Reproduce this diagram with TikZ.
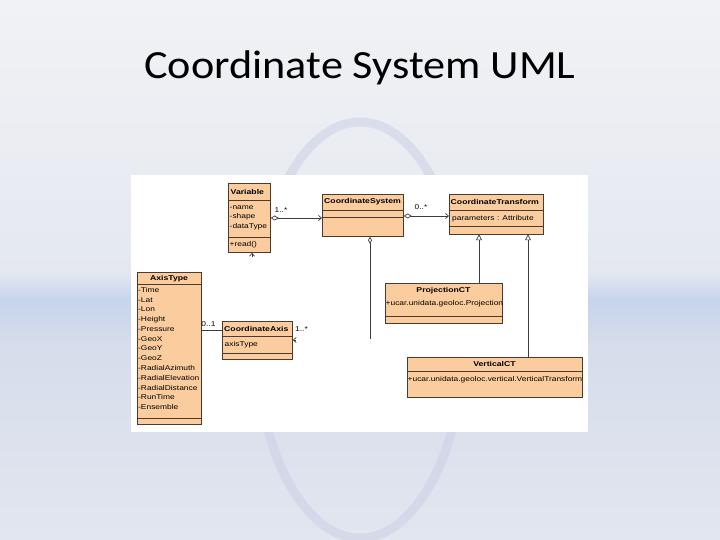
\documentclass[tikz,border=0pt]{standalone}
\usepackage{fontspec}
\setmainfont{Liberation Sans}
\newfontfamily\titlefont[FakeStretch=1.105]{Carlito}
\newfontfamily\umlfont[FakeStretch=1.2]{Liberation Sans}
\newfontfamily\umlbold[FakeStretch=1.24]{Liberation Sans Bold}
\usetikzlibrary{arrows.meta,calc}
\definecolor{boxfill}{HTML}{FBCD9E}
\definecolor{boxline}{HTML}{4A3A30}
\definecolor{linec}{HTML}{3C3C3C}
\definecolor{bgtop}{HTML}{F1F2F5}
\definecolor{bgmid}{HTML}{E4E8F0}
\definecolor{bgband}{HTML}{C7D4EC}
\definecolor{bglow}{HTML}{D6DDEB}
\definecolor{bgbot}{HTML}{E2E6EF}
\definecolor{ringc}{HTML}{CACEE6}
\tikzset{
  x=1pt, y=-1pt,
  cls/.style={draw=boxline, fill=boxfill, line width=0.7pt, inner sep=0pt, anchor=north west},
  sep/.style={draw=boxline, line width=0.6pt},
  cname/.style={font=\umlbold\fontsize{7}{8}\selectfont, inner sep=0pt},
  cattr/.style={font=\umlfont\fontsize{7}{8}\selectfont, inner sep=0pt, anchor=west},
  mult/.style={font=\umlfont\fontsize{7}{8}\selectfont, inner sep=0pt},
  assoc/.style={draw=linec, line width=0.7pt},
  agg/.style={{Diamond[open, length=8pt, width=5pt]}-{Straight Barb[length=3pt, width=5pt]}},
  gen/.style={-{Triangle[open, length=6pt, width=6pt, fill=white]}},
}
\begin{document}
\begin{tikzpicture}
\useasboundingbox (0,0) rectangle (720,540);
% background
\fill[top color=bgtop, bottom color=bgmid] (0,0) rectangle (720,272);
\fill[top color=bgmid, bottom color=bgband] (0,271.5) rectangle (720,300);
\fill[top color=bgband, bottom color=bglow] (0,299.5) rectangle (720,345);
\fill[top color=bglow, bottom color=bgbot] (0,344.5) rectangle (720,540);
\draw[ringc, line width=9pt, opacity=0.5] (360,330) ellipse [x radius=105, y radius=208];
% title
\node[font=\titlefont\fontsize{40}{44}\selectfont, inner sep=0pt] (title) at (360,68) {Coordinate System UML};
% panel
\fill[white] (131,175) rectangle (588,432);

% Variable
\node[cls, minimum width=42pt, minimum height=69pt] (var) at (228,183) {};
\draw[sep] (228,200) -- (270,200);
\draw[sep] (228,237) -- (270,237);
\node[cname, anchor=west] (varn) at (230.5,191.5) {Variable};
\node[cattr] (va1) at (229.5,208) {-name};
\node[cattr] (va2) at (229.5,217) {-shape};
\node[cattr] (va3) at (229.5,226.5) {-dataType};
\node[cattr] (vm1) at (229.5,244.5) {+read()};

% CoordinateSystem
\node[cls, minimum width=81pt, minimum height=42pt] (cs) at (322,194) {};
\draw[sep] (322,210) -- (403,210);
\draw[sep] (322,217.5) -- (403,217.5);
\node[cname, anchor=west] (csn) at (324,202) {CoordinateSystem};

% CoordinateTransform
\node[cls, minimum width=94pt, minimum height=39.5pt] (ct) at (449,194) {};
\draw[sep] (449,210) -- (543,210);
\draw[sep] (449,226.5) -- (543,226.5);
\node[cname, anchor=west] (ctn) at (450.5,202) {CoordinateTransform};
\node[cattr] (cta) at (452,218.5) {parameters : Attribute};

% ProjectionCT
\node[cls, minimum width=117pt, minimum height=40pt] (pct) at (385,283) {};
\draw[sep] (385,316.5) -- (502,316.5);
\node[cname] (pctn) at (443.5,291) {ProjectionCT};
\node[cattr] (pcta) at (385.5,303.5) {+ucar.unidata.geoloc.Projection};

% VerticalCT
\node[cls, minimum width=175pt, minimum height=40pt] (vct) at (407,357) {};
\draw[sep] (407,371) -- (582,371);
\node[cname] (vctn) at (494.5,364) {VerticalCT};
\node[cattr] (vcta) at (407.5,380) {+ucar.unidata.geoloc.vertical.VerticalTransform};

% AxisType
\node[cls, minimum width=64pt, minimum height=152pt] (at) at (137,272) {};
\draw[sep] (137,284.5) -- (201,284.5);
\draw[sep] (137,418) -- (201,418);
\node[cname] (atn) at (169,278.5) {AxisType};
\foreach \t [count=\i from 0] in {Time,Lat,Lon,Height,Pressure,GeoX,GeoY,GeoZ,RadialAzimuth,RadialElevation,RadialDistance,RunTime,Ensemble}
  \node[cattr] (ati\i) at (138,290+9.75*\i) {-\t};

% CoordinateAxis
\node[cls, minimum width=70pt, minimum height=38pt] (ca) at (222,321) {};
\draw[sep] (222,336.5) -- (292,336.5);
\draw[sep] (222,353) -- (292,353);
\node[cname, anchor=west] (can) at (224,329) {CoordinateAxis};
\node[cattr] (caa) at (224.5,345) {axisType};

% connectors
\draw[assoc, agg] ($(var.north east)+(0,35)$) -- ($(cs.north west)+(0,24)$);
\node[mult] (m1) at (281,210.5) {1..*};
\draw[assoc, agg] ($(cs.north east)+(0,22)$) -- ($(ct.north west)+(0,22)$);
\node[mult] (m2) at (421,207) {0..*};
\coordinate (csend) at (370,338.5);
\draw[assoc, {Diamond[open, length=7pt, width=4pt]}-] ($(cs.south west)+(48,0)$) -- (csend);
\draw[assoc, gen] ($(pct.north west)+(94,0)$) -- ($(ct.south west)+(30,0)$);
\draw[assoc, gen] ($(vct.north west)+(121,0)$) -- ($(ct.south west)+(79,0)$);
\draw[assoc] ($(at.north east)+(0,58)$) -- ($(ca.north west)+(0,9)$);
\node[mult] (m3) at (208.5,324) {0..1};
\node[mult] (m4) at (301.5,329.5) {1..*};
\coordinate (cab) at (295.5,340);
\draw[assoc, -{Straight Barb[length=3pt, width=5pt]}] (cab) -- ($(ca.north east)+(0,19)$);
\coordinate (vb) at (252,256.5);
\draw[assoc, -{Straight Barb[length=3pt, width=5pt]}] (vb) -- ($(var.south west)+(24,0)$);
\end{tikzpicture}
\end{document}
